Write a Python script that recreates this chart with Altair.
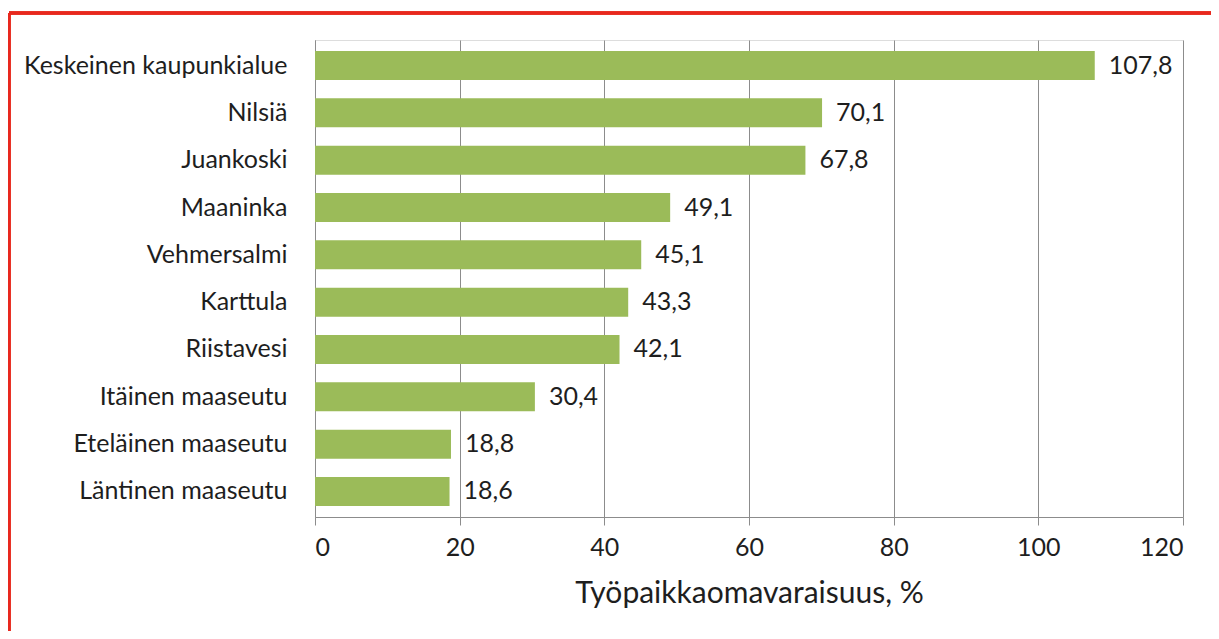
import altair as alt
import pandas as pd

regions = ["Keskeinen kaupunkialue", "Nilsiä", "Juankoski", "Maaninka", "Vehmersalmi",
           "Karttula", "Riistavesi", "Itäinen maaseutu", "Eteläinen maaseutu", "Läntinen maaseutu"]
values = [107.8, 70.1, 67.8, 49.1, 45.1, 43.3, 42.1, 30.4, 18.8, 18.6]
x_ticks = [0, 20, 40, 60, 80, 100, 120]
x_title = "Työpaikkaomavaraisuus, %"

df = pd.DataFrame({
    "alue": regions,
    "arvo": values,
    "label": [f"{v:.1f}".replace(".", ",") for v in values],
})

FONT = "Lato"
TEXT = "#1e1e1e"
GRID = "#8c8c8c"
GREEN = "#9bbb59"
RED = "#e8281e"

y_enc = alt.Y("alue:N", sort=regions, title=None,
              scale=alt.Scale(paddingInner=0.387, paddingOuter=0.2325),
              axis=alt.Axis(ticks=False, domain=True, domainColor=GRID, labelPadding=28,
                            labelLimit=0,
                            labelFontSize=25, labelFont=FONT, labelColor=TEXT, grid=False))
x_enc = alt.X("arvo:Q", title=x_title,
              scale=alt.Scale(domain=[0, 120], nice=False),
              axis=alt.Axis(values=x_ticks, grid=True, gridColor=GRID, gridWidth=1,
                            domainColor=GRID, tickColor=GRID, tickSize=8,
                            labelFontSize=25, labelFont=FONT, labelColor=TEXT, labelPadding=10,
                            titleFontSize=30, titleFont=FONT, titleColor=TEXT,
                            titleFontWeight="normal", titlePadding=18))

bars = alt.Chart(df).mark_bar(color=GREEN).encode(x=x_enc, y=y_enc)
texts = alt.Chart(df).mark_text(align="left", baseline="middle", dx=14, fontSize=25,
                                font=FONT, color=TEXT).encode(
    x="arvo:Q", y=alt.Y("alue:N", sort=regions), text="label:N")

border_v = alt.Chart(df).mark_rule(color=RED, strokeWidth=2.5).encode(
    x=alt.value(-306), y=alt.value(-27), y2=alt.value(700))
border_h = alt.Chart(df).mark_rule(color=RED, strokeWidth=2.5).encode(
    y=alt.value(-27), x=alt.value(-306), x2=alt.value(1000))

chart = alt.layer(bars, texts, border_v, border_h).properties(
    width=868, height=477,
    autosize=alt.AutoSizeParams(type="none"),
    padding={"left": 307, "top": 32, "right": 28, "bottom": 114},
).configure_view(stroke=None).configure(background="white")

chart.save("out.html", embed_options={"renderer": "svg", "actions": False})
